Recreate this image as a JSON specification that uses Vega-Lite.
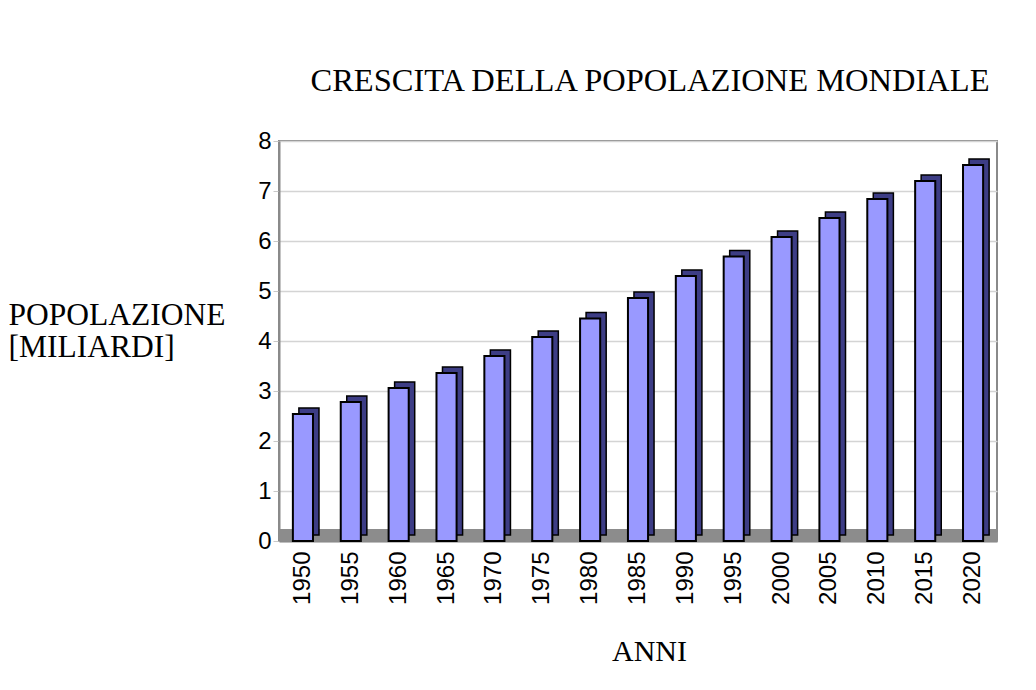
{
  "$schema": "https://vega.github.io/schema/vega-lite/v6.json",
  "autosize": "none",
  "width": 718,
  "height": 400,
  "padding": {"left": 279, "top": 141, "right": 39, "bottom": 149},
  "background": "white",
  "config": {
    "view": {"stroke": "#8a8a8a", "strokeWidth": 2},
    "axis": {"labelFont": "Liberation Sans", "labelColor": "#000", "titleFont": "Liberation Serif", "titleColor": "#000", "titleFontWeight": "normal"}
  },
  "title": {
    "text": "CRESCITA DELLA POPOLAZIONE MONDIALE",
    "font": "Liberation Serif",
    "fontSize": 32.5,
    "fontWeight": "normal",
    "color": "#000",
    "anchor": "middle",
    "dx": 12,
    "offset": 32
  },
  "data": {
    "values": [
      {"anno": "1950", "pop": 2.54},
      {"anno": "1955", "pop": 2.78},
      {"anno": "1960", "pop": 3.06},
      {"anno": "1965", "pop": 3.36},
      {"anno": "1970", "pop": 3.70},
      {"anno": "1975", "pop": 4.08},
      {"anno": "1980", "pop": 4.45},
      {"anno": "1985", "pop": 4.86},
      {"anno": "1990", "pop": 5.30},
      {"anno": "1995", "pop": 5.69},
      {"anno": "2000", "pop": 6.08},
      {"anno": "2005", "pop": 6.46},
      {"anno": "2010", "pop": 6.84},
      {"anno": "2015", "pop": 7.20},
      {"anno": "2020", "pop": 7.52}
    ]
  },
  "encoding": {
    "x": {
      "field": "anno",
      "type": "ordinal",
      "scale": {"paddingInner": 0.58, "paddingOuter": 0.29},
      "axis": {
        "title": "ANNI",
        "titleFontSize": 30,
        "titleY": 119,
        "titleX": 370,
        "titleBaseline": "alphabetic",
        "labelAngle": -90,
        "labelAlign": "right",
        "labelBaseline": "middle",
        "labelFontSize": 24,
        "labelPadding": 10,
        "ticks": false,
        "domainColor": "#8a8a8a",
        "domainWidth": 2
      }
    },
    "y": {
      "field": "pop",
      "type": "quantitative",
      "scale": {"domain": [0, 8], "nice": false},
      "axis": {
        "title": ["POPOLAZIONE", "[MILIARDI]"],
        "titleFontSize": 31.5,
        "titleAngle": 0,
        "titleAlign": "left",
        "titleBaseline": "alphabetic",
        "titleX": -271,
        "titleY": 183,
        "titleLineHeight": 32,
        "values": [0, 1, 2, 3, 4, 5, 6, 7, 8],
        "labelOverlap": false,
        "labelFontSize": 24,
        "labelPadding": 2,
        "ticks": true,
        "tickColor": "#c8c8c8",
        "tickSize": 6,
        "domainColor": "#8a8a8a",
        "domainWidth": 2,
        "gridColor": "#d4d4d4",
        "gridWidth": 1.5
      }
    }
  },
  "layer": [
    {
      "mark": {"type": "rule", "color": "#8c8c8c", "strokeWidth": 11, "yOffset": -6},
      "encoding": {"y": {"datum": 0}, "x": null}
    },
    {
      "mark": {"type": "bar", "color": "#3d3d85", "stroke": "#000", "strokeWidth": 1.5, "xOffset": 6, "yOffset": -6}
    },
    {
      "mark": {"type": "bar", "color": "#9999ff", "stroke": "#000", "strokeWidth": 2}
    }
  ]
}
